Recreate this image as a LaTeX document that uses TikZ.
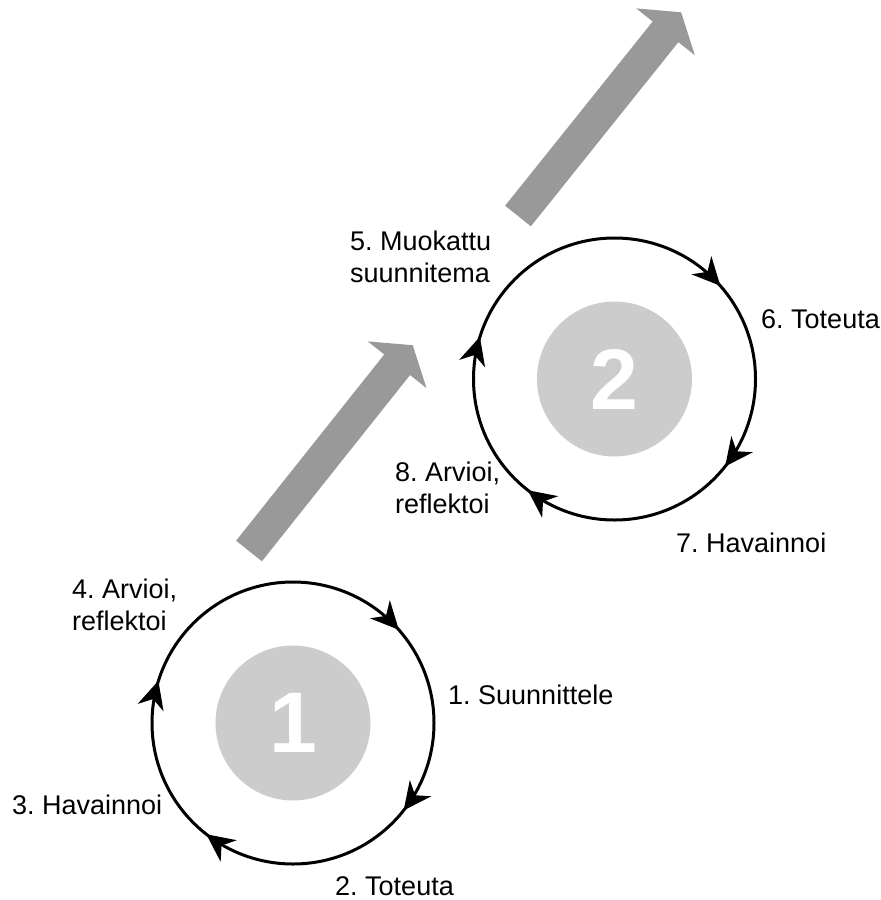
\documentclass[tikz,border=0pt]{standalone}
\usepackage{fontspec}
\setmainfont{Liberation Sans}
\usetikzlibrary{decorations.markings}

\definecolor{diskgray}{HTML}{CCCCCC}
\definecolor{arrowgray}{HTML}{999999}

\frenchspacing
\begin{document}
\begin{tikzpicture}[x=1pt,y=1pt,
  lbl/.style={anchor=base west, inner sep=0pt, align=left,
    font=\fontsize{27}{32}\selectfont},
  numdisk/.style={circle, fill=diskgray, minimum size=155, inner sep=0pt,
    text=white, font=\fontsize{86}{86}\selectfont\bfseries},
  % stealth-like head, tip at the mark, pointing along the path
  ringtip/.pic={\fill (3,0) -- (-25,13.5) -- (-16,0) -- (-25,-13.5) -- cycle;},
  cycle ring/.style={line width=3pt, postaction=decorate,
    decoration={markings,
      mark=at position 0.1317 with {\pic[transform shape]{ringtip};},
      mark=at position 0.3530 with {\pic[transform shape]{ringtip};},
      mark=at position 0.6020 with {\pic[transform shape]{ringtip};},
      mark=at position 0.7950 with {\pic[transform shape]{ringtip};}}},
  bigarrow/.style={fill=arrowgray}
]
\useasboundingbox (0,0) rectangle (881,-900);

% ---- broad grey arrows (drawn as outlines along their own axis)
\begin{scope}[shift={(249,-551)}, rotate=51.5]
  \fill[bigarrow] (0,16.5) -- (238,16.5) -- (238,37.5) -- (263,0)
    -- (238,-37.5) -- (238,-16.5) -- (0,-16.5) -- cycle;
\end{scope}
\begin{scope}[shift={(518,-216)}, rotate=51.3]
  \fill[bigarrow] (0,16.5) -- (236,16.5) -- (236,37.5) -- (261,0)
    -- (236,-37.5) -- (236,-16.5) -- (0,-16.5) -- cycle;
\end{scope}

% ---- first cycle
\coordinate (o1) at (293,-723);
\node[numdisk] (d1) at (o1) {1};
\draw[cycle ring] (o1) ++(90:141) arc[start angle=90, end angle=-270, radius=141];

% ---- second cycle
\coordinate (o2) at (614.5,-379);
\node[numdisk] (d2) at (o2) {2};
\draw[cycle ring] (o2) ++(90:141) arc[start angle=90, end angle=-270, radius=141];

% ---- step labels (two-line labels are placed by their last baseline)
\node[lbl] (s1) at (448,-704) {1. Suunnittele};
\node[lbl] (s2) at (335,-895) {2. Toteuta};
\node[lbl] (s3) at (12,-814) {3. Havainnoi};
\node[lbl] (s4) at (72,-630) {4. Arvioi,\\reflektoi};
\node[lbl] (s5) at (350,-282) {5. Muokattu\\suunnitema};
\node[lbl] (s6) at (761,-328) {6. Toteuta};
\node[lbl] (s7) at (676,-552) {7. Havainnoi};
\node[lbl] (s8) at (395,-513) {8. Arvioi,\\reflektoi};
\end{tikzpicture}
\end{document}
